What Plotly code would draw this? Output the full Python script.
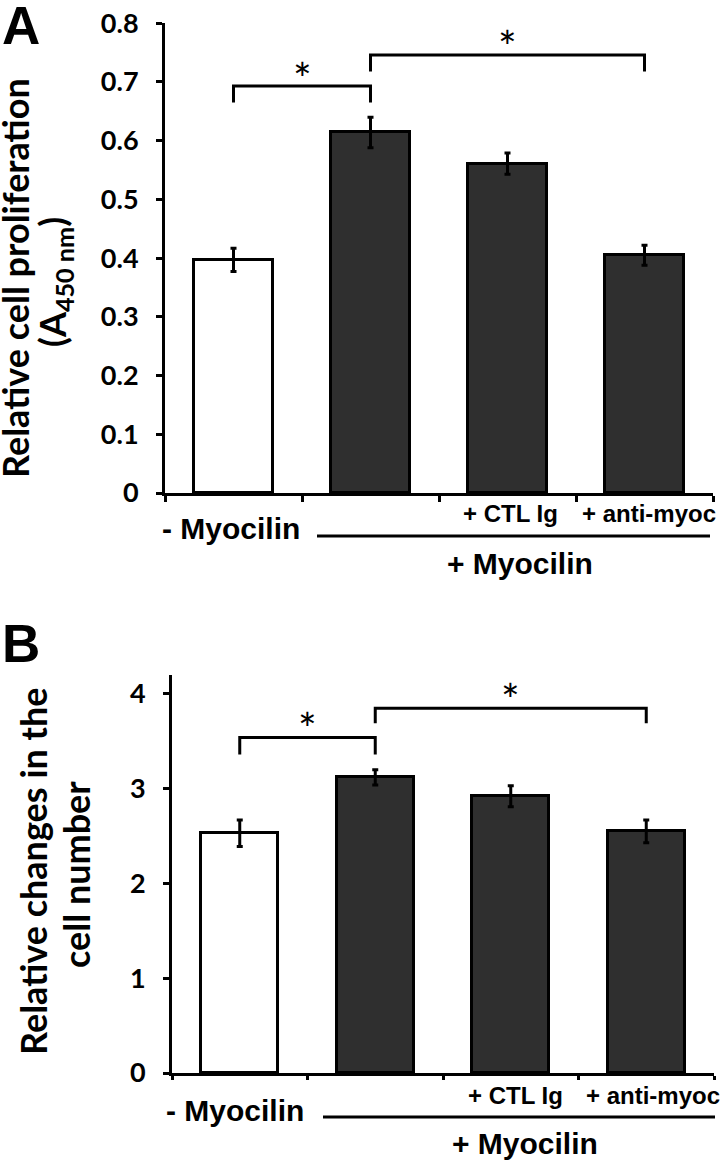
import plotly.graph_objects as go

# groups on the x axis (bar order)
groups = ["- Myocilin", "+ Myocilin", "+ CTL Ig", "+ anti-myoc"]
bar_fill = ["white", "#2f2f2f", "#2f2f2f", "#2f2f2f"]

# panel A: relative cell proliferation (A450 nm)
prolif = [0.397, 0.614, 0.561, 0.405]
prolif_err = [0.020, 0.026, 0.018, 0.017]
prolif_ticks = [0, 0.1, 0.2, 0.3, 0.4, 0.5, 0.6, 0.7, 0.8]
prolif_ticktext = ["0", "0.1", "0.2", "0.3", "0.4", "0.5", "0.6", "0.7", "0.8"]

# panel B: relative changes in the cell number
cellnum = [2.53, 3.12, 2.92, 2.55]
cellnum_err = [0.14, 0.08, 0.11, 0.12]
cellnum_ticks = [0, 1, 2, 3, 4]
cellnum_ticktext = ["0", "1", "2", "3", "4"]

# significance brackets: (left bar, right bar, leg bottom, bracket top, star height)
brackets_a = [(0, 1, 0.665, 0.693, 0.707), (1, 3, 0.718, 0.746, 0.761)]
brackets_b = [(0, 1, 3.36, 3.54, 3.64), (1, 3, 3.69, 3.85, 3.95)]

W, H = 720, 1160
px = lambda v: v / W
py = lambda v: 1 - v / H

TICKFONT = dict(family="Lato", size=27, color="black", weight=700)
LABFONT = "Liberation Sans, Arial"


def note(**kw):
    kw.setdefault("xanchor", "center")
    kw.setdefault("yanchor", "middle")
    fig.add_annotation(showarrow=False, **kw)


xpos = list(range(len(groups)))
fig = go.Figure()

for vals, errs, xa, ya in [(prolif, prolif_err, "x", "y"), (cellnum, cellnum_err, "x2", "y2")]:
    fig.add_trace(go.Bar(
        x=xpos, y=vals, width=0.57, xaxis=xa, yaxis=ya,
        marker=dict(color=bar_fill, line=dict(color="black", width=3)),
        error_y=dict(type="data", array=errs, color="black", thickness=3, width=3),
        showlegend=False,
    ))

for brackets, xa, ya in [(brackets_a, "x", "y"), (brackets_b, "x2", "y2")]:
    for i, j, low, top, star in brackets:
        fig.add_trace(go.Scatter(
            x=[i, i, j, j], y=[low, top, top, low], mode="lines",
            line=dict(color="black", width=3), xaxis=xa, yaxis=ya,
            showlegend=False, hoverinfo="skip",
        ))
        note(x=(i + j) / 2, y=star, xref=xa, yref=ya, text="*",
             font=dict(family="Lato", size=44, color="black"))

xcommon = dict(range=[-0.5, 3.5], tickvals=[-0.5, 0.5, 1.5, 2.5, 3.5], ticktext=[""] * 5,
               showline=True, linecolor="black", linewidth=3, ticks="outside",
               tickcolor="black", tickwidth=3, showgrid=False, zeroline=False,
               fixedrange=True, automargin=False)
ycommon = dict(showline=True, linecolor="black", linewidth=3, ticks="outside", ticklen=6,
               tickcolor="black", tickwidth=3, showgrid=False, zeroline=False,
               tickfont=TICKFONT, ticklabelstandoff=12, fixedrange=True, automargin=False)

fig.update_layout(
    width=W, height=H, margin=dict(l=0, r=0, t=0, b=0, autoexpand=False),
    paper_bgcolor="white", plot_bgcolor="white", bargap=0,
    xaxis=dict(domain=[px(165), px(713)], anchor="y", ticklen=6, **xcommon),
    yaxis=dict(domain=[py(493), py(23)], anchor="x", range=[0, 0.8004],
               tickvals=prolif_ticks, ticktext=prolif_ticktext, **ycommon),
    xaxis2=dict(domain=[px(172), px(714)], anchor="y2", ticklen=4, **xcommon),
    yaxis2=dict(domain=[py(1073), py(675)], anchor="x2", range=[0, 4.2],
                tickvals=cellnum_ticks, ticktext=cellnum_ticktext, **ycommon),
)

# panel letters
for letter, yc in [("A", 25), ("B", 643)]:
    note(x=px(21), y=py(yc), xref="paper", yref="paper", text=letter,
         font=dict(family=LABFONT, size=53, color="black", weight=700))

# y axis titles
titles = [("Relative cell proliferation", 15, 278, 36),
          ("(A<sub>450 nm</sub>)", 54, 282, 36),
          ("Relative changes in the", 33, 871, 36),
          ("cell number", 76, 875, 36)]
for txt, xc, yc, size in titles:
    note(x=px(xc), y=py(yc), xref="paper", yref="paper", text=txt, textangle=-90,
         font=dict(family="Lato", size=size, color="black", weight=700))

# category labels and the "+ Myocilin" bar underneath
for x_main, y_main, x_ctl, x_anti, y_sub, y_line, x0, x1, x_plus, y_plus in [
        (231, 528, 510, 649, 513, 536, 317, 710, 520, 563),
        (235, 1110, 515, 653, 1095, 1117, 323, 715, 525, 1143)]:
    note(x=px(x_main), y=py(y_main), xref="paper", yref="paper", text=groups[0],
         font=dict(family=LABFONT, size=30, color="black", weight=700))
    for xc, k in [(x_ctl, 2), (x_anti, 3)]:
        note(x=px(xc), y=py(y_sub), xref="paper", yref="paper", text=groups[k],
             font=dict(family=LABFONT, size=24, color="black", weight=700))
    note(x=px(x_plus), y=py(y_plus), xref="paper", yref="paper", text=groups[1],
         font=dict(family=LABFONT, size=30, color="black", weight=700))
    fig.add_shape(type="line", xref="paper", yref="paper", x0=px(x0), x1=px(x1),
                  y0=py(y_line), y1=py(y_line), line=dict(color="black", width=3))

# drop the default 8px body margin so the figure fills the window exactly
fig.write_html("out.html", config={"displayModeBar": False},
               post_script="document.body.style.margin='0';")
